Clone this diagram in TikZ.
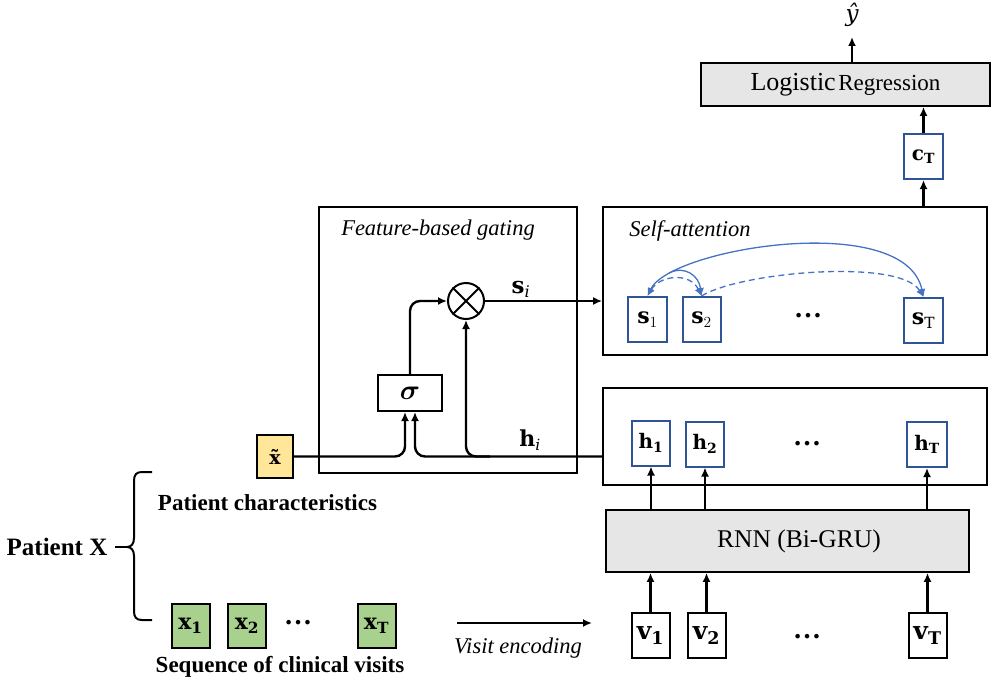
\RequirePackage{fix-cm}
\documentclass[tikz,border=0pt]{standalone}
\usepackage{bm}
\usepackage{fontspec}
\setmainfont{Liberation Serif}
\setmathrm{DejaVu Serif}
\setboldmathrm{DejaVu Serif}
\newfontfamily\dvs{DejaVu Serif}
\usetikzlibrary{arrows.meta,calc}
\definecolor{boxblue}{HTML}{2F5597}
\definecolor{attnblue}{HTML}{4472C4}
\definecolor{lgray}{HTML}{E7E6E6}
\definecolor{lyellow}{HTML}{FFE699}
\definecolor{lgreen}{HTML}{A9D18E}
\newcommand{\fs}[1]{\fontsize{#1}{#1}\selectfont}
\begin{document}
\begin{tikzpicture}[x=1pt,y=-1pt,
  cont/.style={draw, line width=1.8pt, inner sep=0pt},
  sbox/.style={draw, line width=2pt, minimum width=38pt, minimum height=45pt, inner sep=0pt, font=\fs{22}},
  bbox/.style={sbox, draw=boxblue, fill=white},
  gbox/.style={sbox, fill=lgreen, minimum height=44pt},
  arr/.style={line width=2.4pt, -{Latex[length=9pt,width=8pt]}},
  attn/.style={draw=attnblue, line width=1.3pt},
  tip/.style={-{Latex[length=8pt,width=7pt]}},
  dtip/.style={{Latex[length=8pt,width=7pt]}-{Latex[length=8pt,width=7pt]}},
  dsh/.style={dash pattern=on 6pt off 4pt},
  ilbl/.style={font=\fs{22.5}\itshape, inner sep=1pt},
  blbl/.style={font=\fs{23}\bfseries, inner sep=1pt},
  dots/.style={font=\fs{28}\bfseries, inner sep=0pt}
]
\useasboundingbox (0,0) rectangle (993,685);

% top
\node[cont, fill=lgray, minimum width=289pt, minimum height=43pt] (lr) at (845.5,84.5)
  {{\fs{26}Logistic} {\fs{23}Regression}};
\node[font=\fs{23}\dvs\itshape, inner sep=0pt] (yhat) at (852,15) {ŷ};
\node[bbox, minimum width=39pt, font=\fs{20}] (cT) at (923.5,156.5) {$\mathbf{c}_\mathbf{T}$};

% self-attention
\node[cont, minimum width=384pt, minimum height=148pt] (sa) at (795,281) {};
\node[ilbl] (satitle) at (690,231) {Self-attention};
\node[bbox, minimum width=39pt] (s1) at (647.5,319.5) {$\mathbf{s}_1$};
\node[bbox] (s2) at (701.5,319.5) {$\mathbf{s}_2$};
\node[bbox, minimum width=39pt] (sT) at (923.5,320.5) {$\mathbf{s}_\mathrm{T}$};
\node[dots] (sdots) at (808,316) {…};

% gating
\node[cont, minimum width=258pt, minimum height=266pt] (gate) at (448,340) {};
\node[ilbl] (gtitle) at (438,230) {Feature-based gating};
\node[circle, draw, line width=2pt, minimum size=36pt, inner sep=0pt] (ot) at (466,301) {};
\draw[line width=2pt] (ot.45) -- (ot.225) (ot.135) -- (ot.315);
\node[sbox, minimum width=64pt, minimum height=36pt, font=\fs{28}] (sig) at (410,393) {$\bm{\sigma}$};
\node[sbox, fill=lyellow, minimum width=36pt, minimum height=43pt, font=\fs{19}\dvs\bfseries] (xt) at (275,456.5) {x\char"0303};
\node[font=\fs{23}, inner sep=1pt] (si) at (521,289) {$\mathbf{s}_{\mathit{i}}$};
\node[font=\fs{22}, inner sep=1pt] (hi) at (530,440) {$\mathbf{h}_{\mathit{i}}$};

% hidden states
\node[cont, minimum width=384pt, minimum height=97pt] (hb) at (795,436.5) {};
\node[bbox, font=\fs{20}] (h1) at (651,443) {$\mathbf{h}_\mathbf{1}$};
\node[bbox, font=\fs{20}] (h2) at (705,444) {$\mathbf{h}_\mathbf{2}$};
\node[bbox, minimum width=40pt, font=\fs{20}] (hT) at (927,444.5) {$\mathbf{h}_\mathbf{T}$};
\node[dots] (hdots) at (807,444) {…};

% RNN
\node[cont, fill=lgray, minimum width=363pt, minimum height=62pt] (rnn) at (787.5,541) {};
\node[font=\fs{25.5}, inner sep=1pt] (rnnlbl) at (799,541) {RNN (Bi-GRU)};

% visit vectors
\node[sbox, font=\fs{25}] (v1) at (650.5,635.5) {$\mathbf{v}_\mathbf{1}$};
\node[sbox, font=\fs{25}] (v2) at (706.5,635.5) {$\mathbf{v}_\mathbf{2}$};
\node[sbox, font=\fs{25}] (vT) at (927.5,635.5) {$\mathbf{v}_\mathbf{T}$};
\node[dots] (vdots) at (807,637) {…};

% patient
\node[font=\fs{25}\bfseries, inner sep=1pt] (px) at (57,547) {Patient X};
\node[blbl] (pc) at (267.5,503) {Patient characteristics};
\node[gbox] (x1) at (190.5,626) {$\mathbf{x}_\mathbf{1}$};
\node[gbox] (x2) at (247,626) {$\mathbf{x}_\mathbf{2}$};
\node[gbox] (xT) at (376.5,626) {$\mathbf{x}_\mathbf{T}$};
\node[dots] (xdots) at (298,623) {…};
\node[blbl] (seq) at (280,667) {Sequence of clinical visits};
\node[ilbl] (venc) at (518,648) {Visit encoding};
\coordinate (ve1) at (457,623);
\coordinate (ve2) at (592,623);
\draw[arr] (ve1) -- (ve2);

% brace
\coordinate (bd) at (115,547);
\coordinate (btip) at (127,547);
\draw[line width=2pt] (bd) -- (btip);
\draw[line width=2pt, line join=round]
  (152,472) -- (142,472) .. controls (136,472) and (134,475) .. (134,481) -- (134,538)
  .. controls (134,544) and (131,547) .. (btip)
  .. controls (131,547) and (134,550) .. (134,556) -- (134,611)
  .. controls (134,617) and (136,620) .. (142,620) -- (152,620);

% connectors
\coordinate (yarr) at (852,37);
\draw[arr] (yarr |- lr.north) -- (yarr);
\draw[arr] (cT.north) -- (cT.north |- lr.south);
\draw[arr] (cT.south |- sa.north) -- (cT.south);
\draw[arr, rounded corners=10pt] (sig.north) |- (ot.west);
\draw[arr] (ot.east) -- (ot.east -| sa.west);
\draw[arr, rounded corners=10pt] (xt.east) -| ([xshift=-5pt]sig.south);
\draw[arr, rounded corners=10pt] (hb.west |- xt.east) -| ([xshift=5pt]sig.south);
\coordinate (hbr) at (490,456.5);
\draw[arr, rounded corners=10pt] (hbr) -| (ot.south);
\foreach \n in {h1,h2,hT} \draw[arr] (\n.south |- rnn.north) -- (\n.south);
\foreach \n in {v1,v2,vT} \draw[arr] (\n.north) -- (\n.north |- rnn.south);

% attention arcs
\coordinate (sj) at (669,273);
\draw[attn, dtip] (s1.north) .. controls (670,248) and (905,210) .. (sT.north);
\draw[attn, tip] (sj) .. controls (685,265) and (699,276) .. (s2.north);
\draw[attn, dtip, dsh] (s1.north) .. controls (660,275) and (690,272) .. (s2.north);
\draw[attn, tip, dsh] (s2.north) .. controls (740,272) and (900,258) .. (sT.north);
\end{tikzpicture}
\end{document}
